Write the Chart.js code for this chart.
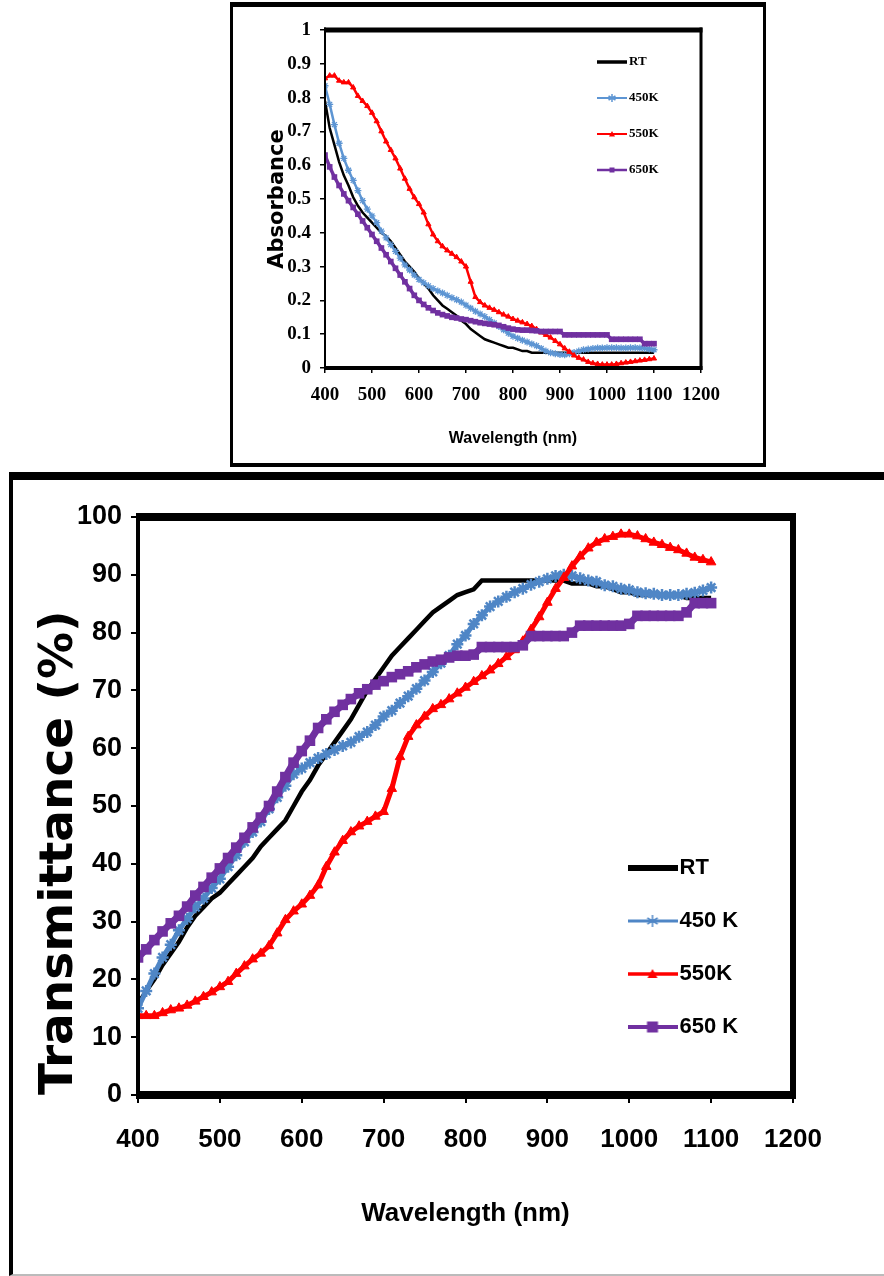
<!DOCTYPE html>
<html>
<head>
<meta charset="utf-8">
<script src="https://cdn.jsdelivr.net/npm/chart.js@4.4.0/dist/chart.umd.min.js"></script>
<style>
  body { margin: 0; background: #fff; width: 884px; height: 1276px; position: relative; overflow: hidden; }
  .box { position: absolute; box-sizing: border-box; border: 0 solid #000; }
  #boxTop { left: 230px; top: 2px; width: 536px; height: 465px; border-width: 5px 3px 4px 3px; }
  #boxBottom { left: 9px; top: 472px; width: 900px; height: 804px; border-width: 8px 0 2px 4px; border-bottom-color: #bbb; }
  canvas { position: absolute; }
  #absorbance { left: 233px; top: 7px; }
  #transmittance { left: 13px; top: 480px; }
</style>
</head>
<body>
<div class="box" id="boxTop"></div>
<div class="box" id="boxBottom"></div>
<canvas id="absorbance" width="530" height="456"></canvas>
<canvas id="transmittance" width="871" height="794"></canvas>
<script>
// wavelength grid (nm), shared by both panels
const wavelength = [400, 410, 420, 430, 440, 450, 460, 470, 480, 490,
  500, 510, 520, 530, 540, 550, 560, 570, 580, 590,
  600, 610, 620, 630, 640, 650, 660, 670, 680, 690,
  700, 710, 720, 730, 740, 750, 760, 770, 780, 790,
  800, 810, 820, 830, 840, 850, 860, 870, 880, 890,
  900, 910, 920, 930, 940, 950, 960, 970, 980, 990,
  1000, 1010, 1020, 1030, 1040, 1050, 1060, 1070, 1080, 1090,
  1100];

const seriesLabelsTop = ['RT', '450K', '550K', '650K'];
const seriesLabelsBottom = ['RT', '450 K', '550K', '650 K'];

// absorbance (top panel)
const absRT = [0.79, 0.71, 0.66, 0.61, 0.57, 0.54, 0.505, 0.48, 0.46, 0.445,
  0.43, 0.415, 0.40, 0.39, 0.375, 0.355, 0.335, 0.315, 0.30, 0.285,
  0.265, 0.25, 0.235, 0.215, 0.20, 0.185, 0.175, 0.165, 0.155, 0.14,
  0.13, 0.115, 0.105, 0.095, 0.085, 0.08, 0.075, 0.07, 0.065, 0.06,
  0.06, 0.055, 0.05, 0.05, 0.045, 0.045, 0.045, 0.045, 0.045, 0.045,
  0.045, 0.045, 0.045, 0.045, 0.045, 0.045, 0.045, 0.045, 0.045, 0.045,
  0.045, 0.045, 0.045, 0.045, 0.045, 0.045, 0.045, 0.045, 0.045, 0.045,
  0.045];
const abs450 = [0.835, 0.78, 0.72, 0.665, 0.62, 0.585, 0.555, 0.525, 0.495, 0.47,
  0.45, 0.43, 0.405, 0.385, 0.365, 0.345, 0.325, 0.305, 0.29, 0.275,
  0.262, 0.252, 0.243, 0.235, 0.228, 0.222, 0.215, 0.208, 0.202, 0.195,
  0.186, 0.177, 0.168, 0.16, 0.152, 0.143, 0.133, 0.123, 0.113, 0.103,
  0.094, 0.088, 0.082, 0.077, 0.071, 0.066, 0.058, 0.05, 0.045, 0.042,
  0.04, 0.039, 0.042, 0.046, 0.05, 0.054, 0.056, 0.058, 0.059, 0.059,
  0.06, 0.06, 0.06, 0.059, 0.059, 0.06, 0.06, 0.059, 0.058, 0.056,
  0.054];
const abs550 = [0.857, 0.865, 0.865, 0.85, 0.845, 0.845, 0.83, 0.805, 0.79, 0.775,
  0.755, 0.73, 0.70, 0.67, 0.645, 0.62, 0.59, 0.56, 0.53, 0.505,
  0.485, 0.46, 0.425, 0.395, 0.375, 0.36, 0.348, 0.338, 0.328, 0.315,
  0.30, 0.255, 0.21, 0.195, 0.185, 0.178, 0.172, 0.165, 0.158, 0.152,
  0.145, 0.14, 0.135, 0.13, 0.124, 0.115, 0.105, 0.098, 0.09, 0.08,
  0.07, 0.058, 0.048, 0.037, 0.03, 0.025, 0.018, 0.014, 0.012, 0.01,
  0.01, 0.01, 0.012, 0.014, 0.016, 0.018, 0.02, 0.022, 0.024, 0.026,
  0.028];
const abs650 = [0.63, 0.595, 0.565, 0.54, 0.515, 0.495, 0.475, 0.455, 0.435, 0.415,
  0.395, 0.375, 0.355, 0.335, 0.315, 0.295, 0.275, 0.255, 0.235, 0.215,
  0.2, 0.188, 0.178, 0.17, 0.163, 0.158, 0.154, 0.15, 0.148, 0.145,
  0.143, 0.14, 0.137, 0.134, 0.132, 0.13, 0.128, 0.126, 0.122, 0.118,
  0.115, 0.113, 0.112, 0.112, 0.111, 0.11, 0.108, 0.108, 0.108, 0.108,
  0.108, 0.098, 0.098, 0.098, 0.098, 0.098, 0.098, 0.098, 0.098, 0.098,
  0.098, 0.085, 0.085, 0.085, 0.085, 0.085, 0.085, 0.085, 0.072, 0.072,
  0.072];

// transmittance % (bottom panel)
const trRT = [15.7, 18, 20, 22.5, 24.5, 26.5, 29, 31, 32.5, 34,
  35, 36.5, 38, 39.5, 41, 43, 44.5, 46, 47.5, 50,
  52.5, 54.5, 57, 59, 61, 63, 65, 67.5, 70, 72,
  74, 76, 77.5, 79, 80.5, 82, 83.5, 84.5, 85.5, 86.5,
  87, 87.5, 89, 89, 89, 89, 89, 89, 89, 89,
  89, 89, 89, 88.5, 88.5, 88.5, 88, 88, 87.5, 87,
  87, 86.5, 86.5, 86.5, 86.5, 86.5, 86.5, 86, 86, 86,
  86];
const tr450 = [15, 18, 21, 23.8, 26, 28.5, 30.5, 32.5, 34, 35.8,
  37.4, 39.5, 41.5, 43.8, 45.5, 47.3, 49.5, 51.5, 53.5, 55.5,
  56.5, 57.5, 58.3, 59, 59.7, 60.4, 61, 62, 62.8, 64,
  65.5, 66.5, 67.8, 69, 70.3, 71.7, 73.2, 74.7, 76, 78,
  79.5, 81.5, 83, 84.5, 85.4, 86.2, 87, 87.6, 88.3, 88.8,
  89.3, 89.8, 90, 89.8, 89.4, 89, 88.8, 88.2, 88, 87.6,
  87.4, 87, 86.8, 86.7, 86.5, 86.5, 86.5, 86.7, 86.9, 87.3,
  87.8];
const tr550 = [13.7, 13.7, 13.7, 14.2, 14.7, 15, 15.5, 16.2, 17, 17.8,
  18.7, 19.6, 21, 22.3, 23.5, 24.5, 25.8, 28, 30.3, 31.8,
  33, 34.5, 36.3, 39.5, 42, 44, 45.5, 46.5, 47.3, 48.2,
  49, 53, 58.5, 62, 64, 65.5, 66.8, 67.5, 68.5, 69.5,
  70.5, 71.5, 72.5, 73.5, 74.6, 75.8, 77, 78.5, 80.5, 82.7,
  85.2, 87.6, 89.5, 91.5, 93.2, 94.6, 95.6, 96.2, 96.6, 97,
  97, 96.7, 96.2, 95.6, 95.2, 94.7, 94.3, 93.7, 93, 92.6,
  92.2];
const tr650 = [23.8, 25.2, 26.8, 28.3, 29.7, 31, 32.6, 34.5, 36, 37.6,
  39.2, 41, 42.8, 44.5, 46.3, 48, 50, 52.5, 55, 57.5,
  59.5, 61.3, 63.5, 65, 66.3, 67.5, 68.5, 69.5, 70.2, 71,
  71.6, 72.3, 72.8, 73.3, 74, 74.5, 75, 75.3, 75.7, 76,
  76, 76.2, 77.5, 77.5, 77.5, 77.5, 77.5, 77.8, 79.4, 79.4,
  79.4, 79.4, 79.4, 80, 81.2, 81.2, 81.2, 81.2, 81.2, 81.2,
  81.5, 82.9, 82.9, 82.9, 82.9, 82.9, 82.9, 83.5, 85.1, 85.1,
  85.1];

const colors = ['#000000', '#4f86c6', '#ff0000', '#7030a0'];
const SANS = "'Liberation Sans', Arial, sans-serif";
const SERIF = "'Liberation Serif', 'Times New Roman', serif";
const WIDE = "'DejaVu Sans', Verdana, sans-serif";

Chart.defaults.color = '#000';

function series(vals) {
  return vals.map((v, i) => ({ x: wavelength[i], y: v }));
}

// thick black frame round the plot area, as in the Excel original
const framePlugin = {
  id: 'frame',
  afterDatasetsDraw(chart, args, opts) {
    const { ctx, chartArea: a } = chart;
    const [t, r, b, l] = opts.widths;
    const w = a.right - a.left, h = a.bottom - a.top;
    ctx.save();
    ctx.fillStyle = '#000';
    ctx.fillRect(a.left - l / 2, a.top - t / 2, w + l / 2 + r / 2, t);
    ctx.fillRect(a.left - l / 2, a.bottom - b / 2, w + l / 2 + r / 2, b);
    ctx.fillRect(a.left - l / 2, a.top - t / 2, l, h + t / 2 + b / 2);
    ctx.fillRect(a.right - r / 2, a.top - t / 2, r, h + t / 2 + b / 2);
    ctx.restore();
  }
};

// move the legend (position 'chartArea') to a fixed spot inside the plot
const legendSpot = {
  id: 'legendSpot',
  afterLayout(chart, args, opts) {
    const lg = chart.legend;
    if (!lg) return;
    const pad = chart.options.plugins.legend.labels.padding;
    lg.left = opts.x - pad;
    lg.top = opts.y - pad;
    lg.right = lg.left + 400;
    lg.bottom = lg.top + 600;
  }
};

// little line + marker picture used as legend symbol
function legendIcon(w, h, color, lineW, marker, r) {
  const c = document.createElement('canvas');
  c.width = w; c.height = h;
  const g = c.getContext('2d');
  g.strokeStyle = color;
  g.fillStyle = color;
  g.lineWidth = lineW;
  g.beginPath(); g.moveTo(0, h / 2); g.lineTo(w, h / 2); g.stroke();
  const cx = w / 2, cy = h / 2;
  if (marker === 'rect') {
    g.fillRect(cx - r, cy - r, 2 * r, 2 * r);
  } else if (marker === 'triangle') {
    g.beginPath();
    g.moveTo(cx, cy - r); g.lineTo(cx + r, cy + r * 0.8); g.lineTo(cx - r, cy + r * 0.8);
    g.closePath(); g.fill();
  } else if (marker === 'star') {
    g.lineWidth = 1.5;
    g.beginPath();
    for (let k = 0; k < 3; k++) {
      const ang = Math.PI / 2 + k * Math.PI / 3;
      g.moveTo(cx + r * Math.cos(ang), cy + r * Math.sin(ang));
      g.lineTo(cx - r * Math.cos(ang), cy - r * Math.sin(ang));
    }
    g.stroke();
  }
  return c;
}

function legendLabels(icons) {
  return function (chart) {
    const items = Chart.defaults.plugins.legend.labels.generateLabels(chart);
    items.forEach(it => { it.pointStyle = icons[it.datasetIndex]; });
    return items;
  };
}

// ---------- top: absorbance ----------
const iconsTop = [
  legendIcon(30, 12, colors[0], 3.5, null, 0),
  legendIcon(30, 12, '#5d95d3', 2, 'star', 4),
  legendIcon(30, 12, colors[2], 2, 'triangle', 3),
  legendIcon(30, 12, colors[3], 2.5, 'rect', 2.5)
];

new Chart(document.getElementById('absorbance'), {
  type: 'line',
  data: {
    datasets: [
      { label: seriesLabelsTop[0], data: series(absRT), borderColor: colors[0], backgroundColor: colors[0],
        borderWidth: 2.5, pointRadius: 0, order: 4 },
      { label: seriesLabelsTop[1], data: series(abs450), borderColor: '#5d95d3', backgroundColor: '#5d95d3',
        borderWidth: 2.5, pointStyle: 'star', pointRadius: 3.5, pointBorderWidth: 1.3, order: 3 },
      { label: seriesLabelsTop[2], data: series(abs550), borderColor: colors[2], backgroundColor: colors[2],
        borderWidth: 2.5, pointStyle: 'triangle', pointRadius: 3, pointBorderWidth: 1, order: 2 },
      { label: seriesLabelsTop[3], data: series(abs650), borderColor: colors[3], backgroundColor: colors[3],
        borderWidth: 3.5, pointStyle: 'rect', pointRadius: 4, pointBorderWidth: 0, order: 1 }
    ]
  },
  options: {
    responsive: false,
    animation: false,
    events: [],
    layout: { padding: { left: 0, top: 23, right: 62, bottom: 0 } },
    scales: {
      x: {
        type: 'linear', min: 400, max: 1200,
        afterFit: s => { s.height = 95; },
        ticks: { stepSize: 100, autoSkip: false, maxRotation: 0, padding: 11, color: '#000',
          callback: v => String(v),
          font: { family: SERIF, size: 19, weight: 'bold' } },
        grid: { drawOnChartArea: false, drawTicks: true, tickLength: 5, color: '#000', lineWidth: 1.5 },
        border: { display: false },
        title: { display: true, text: 'Wavelength (nm)', color: '#000',
          font: { family: SANS, size: 16, weight: 'bold' }, padding: { top: 0, bottom: 15 } }
      },
      y: {
        min: 0, max: 1,
        afterFit: s => { s.width = 92; },
        ticks: { stepSize: 0.1, padding: 9, color: '#000', callback: v => String(+v.toFixed(1)),
          font: { family: SERIF, size: 19, weight: 'bold' } },
        grid: { drawOnChartArea: false, drawTicks: true, tickLength: 5, color: '#000', lineWidth: 1.5 },
        border: { display: false },
        title: { display: true, text: 'Absorbance', color: '#000',
          font: { family: WIDE, size: 21, weight: 'bold' }, padding: { top: 32, bottom: 0 } }
      }
    },
    plugins: {
      legend: {
        position: 'chartArea', align: 'start',
        labels: {
          usePointStyle: true, pointStyleWidth: 21, padding: 23, color: '#000',
          font: { family: SERIF, size: 13, weight: 'bold' },
          generateLabels: legendLabels(iconsTop),
          sort: (a, b) => a.datasetIndex - b.datasetIndex
        }
      },
      tooltip: { enabled: false },
      frame: { widths: [5, 3, 4, 2] },
      legendSpot: { x: 368.5, y: 48.5 }
    }
  },
  plugins: [framePlugin, legendSpot]
});

// ---------- bottom: transmittance ----------
const iconsBottom = [
  legendIcon(50, 16, colors[0], 6, null, 0),
  legendIcon(50, 16, colors[1], 3, 'star', 6),
  legendIcon(50, 16, colors[2], 3.5, 'triangle', 5),
  legendIcon(50, 16, colors[3], 4, 'rect', 5.5)
];

new Chart(document.getElementById('transmittance'), {
  type: 'line',
  data: {
    datasets: [
      { label: seriesLabelsBottom[0], data: series(trRT), borderColor: colors[0], backgroundColor: colors[0],
        borderWidth: 4.5, pointRadius: 0, order: 4 },
      { label: seriesLabelsBottom[1], data: series(tr450), borderColor: colors[1], backgroundColor: colors[1],
        borderWidth: 5, pointStyle: 'star', pointRadius: 6, pointBorderWidth: 2.5, order: 3 },
      { label: seriesLabelsBottom[2], data: series(tr550), borderColor: colors[2], backgroundColor: colors[2],
        borderWidth: 5, pointStyle: 'triangle', pointRadius: 5.5, pointBorderWidth: 1, order: 2 },
      { label: seriesLabelsBottom[3], data: series(tr650), borderColor: colors[3], backgroundColor: colors[3],
        borderWidth: 7, pointStyle: 'rect', pointRadius: 7.5, pointBorderWidth: 0, order: 1 }
    ]
  },
  options: {
    responsive: false,
    animation: false,
    events: [],
    layout: { padding: { left: 0, top: 37, right: 91, bottom: 0 } },
    scales: {
      x: {
        type: 'linear', min: 400, max: 1200,
        afterFit: s => { s.height = 179; },
        ticks: { stepSize: 100, autoSkip: false, maxRotation: 0, padding: 21, color: '#000',
          callback: v => String(v),
          font: { family: SANS, size: 26, weight: 'bold' } },
        grid: { drawOnChartArea: false, drawTicks: true, tickLength: 8, color: '#000', lineWidth: 2 },
        border: { display: false },
        title: { display: true, text: 'Wavelength (nm)', color: '#000',
          font: { family: SANS, size: 26, weight: 'bold' }, padding: { top: 0, bottom: 45 } }
      },
      y: {
        min: 0, max: 100,
        afterFit: s => { s.width = 125; },
        ticks: { stepSize: 10, padding: 9, color: '#000',
          font: { family: SANS, size: 27, weight: 'bold' } },
        grid: { drawOnChartArea: false, drawTicks: true, tickLength: 7, color: '#000', lineWidth: 2 },
        border: { display: false },
        title: { display: true, text: 'Transmittance (%)', align: 'start', color: '#000',
          font: { family: WIDE, size: 47, weight: 'bold' }, padding: { top: 19, bottom: 0 } }
      }
    },
    plugins: {
      legend: {
        position: 'chartArea', align: 'start',
        labels: {
          usePointStyle: true, pointStyleWidth: 32, padding: 31, color: '#000',
          font: { family: SANS, size: 22, weight: 'bold' },
          generateLabels: legendLabels(iconsBottom),
          sort: (a, b) => a.datasetIndex - b.datasetIndex
        }
      },
      tooltip: { enabled: false },
      frame: { widths: [8, 6, 8, 4] },
      legendSpot: { x: 623.5, y: 377 }
    }
  },
  plugins: [framePlugin, legendSpot]
});
</script>
</body>
</html>
